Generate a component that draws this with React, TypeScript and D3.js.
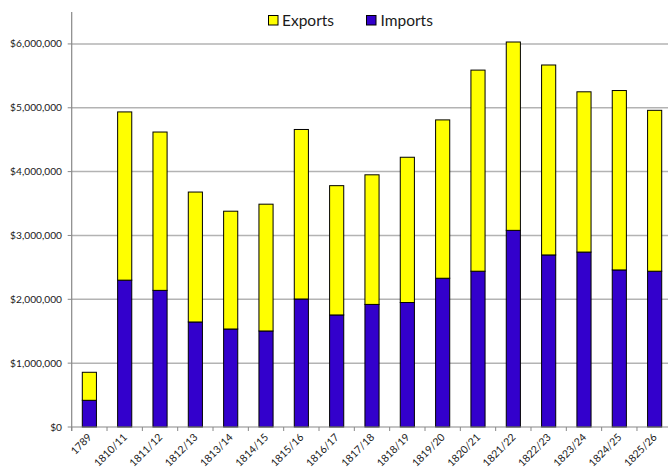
import React from "react";
import * as d3 from "d3";

const categories = ["1789", "1810/11", "1811/12", "1812/13", "1813/14", "1814/15", "1815/16", "1816/17", "1817/18", "1818/19", "1819/20", "1820/21", "1821/22", "1822/23", "1823/24", "1824/25", "1825/26"];
const imports = [418000, 2300000, 2140000, 1645000, 1535000, 1504000, 2005000, 1755000, 1920000, 1950000, 2330000, 2440000, 3080000, 2695000, 2740000, 2460000, 2440000];
const exportsVals = [439000, 2635000, 2480000, 2035000, 1845000, 1986000, 2655000, 2025000, 2030000, 2275000, 2480000, 3150000, 2950000, 2975000, 2510000, 2810000, 2520000];
const yTicks = [0, 1000000, 2000000, 3000000, 4000000, 5000000, 6000000];
const seriesKeys = ["Imports", "Exports"];

const W = 668, H = 475;
const FONT = "Lato, 'Open Sans', sans-serif";
const COLORS: Record<string, string> = { Imports: "#3300cc", Exports: "#ffff00" };

export default function App() {
  const x0 = 71.7;
  const band = 35.33;
  const x = d3.scaleBand<string>().domain(categories).range([x0, x0 + band * categories.length]).paddingInner(0).paddingOuter(0);
  const y = d3.scaleLinear().domain([0, 6500000]).range([427, 12]);
  const bw = x.bandwidth() * 0.4;
  const fmt = (v: number) => "$" + d3.format(",")(v);

  const rows = categories.map((c, i) => ({ cat: c, Imports: imports[i], Exports: exportsVals[i] }));
  const stacked = d3.stack<any>().keys(seriesKeys)(rows);

  return (
    <svg width={W} height={H} style={{ position: "absolute", left: 0, top: 0, background: "#fff" }} fontFamily={FONT}>
      {yTicks.slice(1).map((t) => (
        <line key={"g" + t} x1={x0} x2={W} y1={y(t)} y2={y(t)} stroke="#b3b3b3" strokeWidth={1.5} />
      ))}
      {yTicks.map((t) => (
        <g key={"y" + t}>
          <line x1={x0 - 4} x2={x0} y1={y(t)} y2={y(t)} stroke="#888" strokeWidth={1} />
          <text x={62} y={y(t)} dy="0.35em" textAnchor="end" fontSize={10.2} fill="#1a1a1a">{fmt(t)}</text>
        </g>
      ))}
      {stacked.map((s) => (
        <g key={s.key} fill={COLORS[s.key]}>
          {s.map((d, i) => {
            const cx = (x(categories[i]) as number) + x.bandwidth() / 2;
            return (
              <rect key={i} x={cx - bw / 2} y={y(d[1])} width={bw} height={y(d[0]) - y(d[1])} stroke="#000" strokeWidth={1} />
            );
          })}
        </g>
      ))}
      <line x1={x0} x2={x0} y1={12} y2={431} stroke="#888" strokeWidth={1.2} />
      <line x1={x0} x2={W} y1={y(0)} y2={y(0)} stroke="#888" strokeWidth={1.2} />
      {categories.map((c) => (
        <line key={"xt" + c} x1={x(c) as number} x2={x(c) as number} y1={y(0)} y2={y(0) + 4} stroke="#888" strokeWidth={1} />
      ))}
      {categories.map((c) => {
        const cx = (x(c) as number) + x.bandwidth() / 2 + 3;
        return (
          <text key={"xl" + c} transform={`translate(${cx},${438}) rotate(-45)`} textAnchor="end" fontSize={10.5} fill="#1a1a1a">{c}</text>
        );
      })}
      <rect x={268.5} y={15.5} width={9.5} height={9.5} fill={COLORS.Exports} stroke="#000" strokeWidth={1} />
      <text x={282} y={26} fontSize={15.5} fill="#1a1a1a">Exports</text>
      <rect x={366.5} y={15.5} width={9.5} height={9.5} fill={COLORS.Imports} stroke="#000" strokeWidth={1} />
      <text x={380.5} y={26} fontSize={15.5} fill="#1a1a1a">Imports</text>
    </svg>
  );
}
